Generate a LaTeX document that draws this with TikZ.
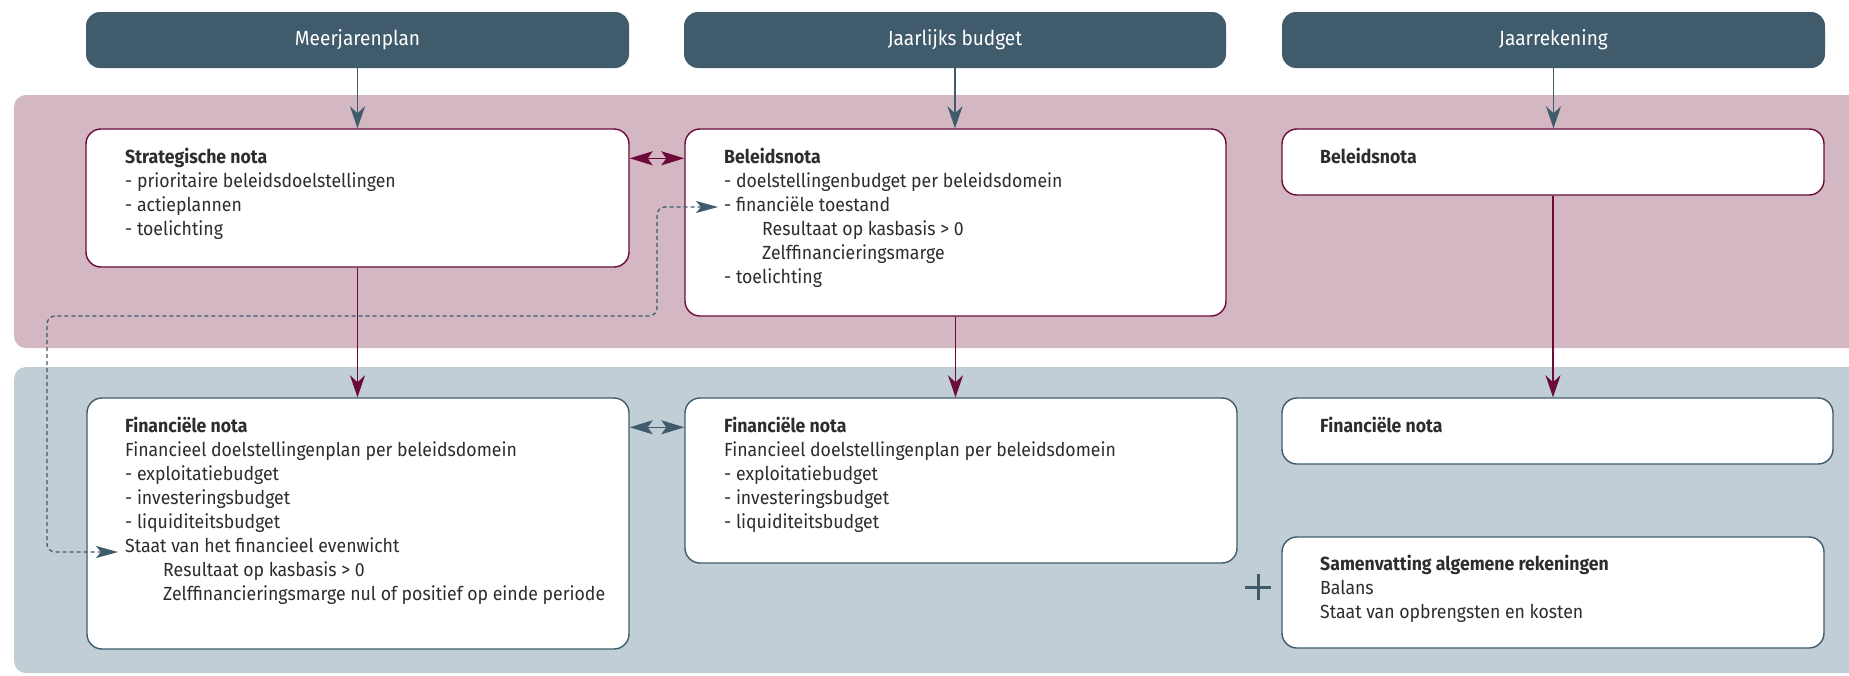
\documentclass[tikz,border=0pt]{standalone}
\usepackage{fontspec}
\setmainfont{Fira Sans}[FakeStretch=0.93]
\usetikzlibrary{arrows.meta,calc}
\definecolor{hdr}{RGB}{63,91,108}
\definecolor{pinkband}{RGB}{211,184,195}
\definecolor{blueband}{RGB}{193,206,214}
\definecolor{maroon}{RGB}{108,10,58}
\definecolor{txtgray}{RGB}{45,45,45}
\newcommand\myBody{\fontsize{19}{24}\selectfont}
\newcommand\myHdr{\fontsize{20.5}{24}\selectfont}
\newcommand\fl{\rule{0pt}{15pt}}
\newcommand\ind{\hspace*{38pt}}
\tikzset{
  hdrbox/.style={fill=hdr, rounded corners=14pt, text=white, font=\myHdr, inner sep=0pt},
  mbox/.style={draw=maroon, fill=white, line width=1.4pt, rounded corners=15pt, inner sep=0pt},
  bbox/.style={draw=hdr, fill=white, line width=1.4pt, rounded corners=15pt, inner sep=0pt},
  txt/.style={anchor=north west, inner sep=0pt, align=left, font=\myBody, text=txtgray},
  tipA/.tip={Stealth[length=22pt,width=15pt,inset=7pt]},
  tipD/.tip={Stealth[length=23pt,width=14pt,inset=5pt]},
  tipS/.tip={Stealth[length=22pt,width=12pt,inset=5pt]},
  arrH/.style={draw=hdr, line width=1.6pt, -tipA},
  arrM/.style={draw=maroon, line width=1.6pt, -tipA},
  dblM/.style={draw=maroon, line width=1.6pt, tipD-tipD},
  dblB/.style={draw=hdr, line width=1.6pt, tipD-tipD},
  dashA/.style={draw=hdr, line width=1.3pt, dash pattern=on 4pt off 3pt, rounded corners=8pt, tipS-tipS},
}
\begin{document}
\begin{tikzpicture}[x=1pt,y=-1pt]
\useasboundingbox (0,0) rectangle (1849,675);
% bands
\begin{scope}
\clip (0,0) rectangle (1849,675);
\fill[pinkband, rounded corners=12pt] (14,95) rectangle (1880,348);
\fill[blueband, rounded corners=12pt] (14,367) rectangle (1880,673);
\end{scope}
% headers
\node[hdrbox, minimum width=543pt, minimum height=56pt] (h1) at (357.5,40) {Meerjarenplan};
\node[hdrbox, minimum width=542pt, minimum height=56pt] (h2) at (955,40) {Jaarlijks budget};
\node[hdrbox, minimum width=543pt, minimum height=56pt] (h3) at (1553.5,40) {Jaarrekening};
% top boxes
\node[mbox, minimum width=543pt, minimum height=138pt] (sn) at (357.5,198) {};
\node[mbox, minimum width=541pt, minimum height=187pt] (bn) at (955.5,222.5) {};
\node[mbox, minimum width=542pt, minimum height=66pt] (bn3) at (1553,162) {};
% bottom boxes
\node[bbox, minimum width=542pt, minimum height=251pt] (fn1) at (358,523.5) {};
\node[bbox, minimum width=552pt, minimum height=165pt] (fn2) at (961,480.5) {};
\node[bbox, minimum width=551pt, minimum height=66pt] (fn3) at (1557.5,431) {};
\node[bbox, minimum width=542pt, minimum height=111pt] (sv) at (1553,592.5) {};
% texts
\node[txt] (snT) at (125,148) {\fl\textbf{Strategische nota}\\- prioritaire beleidsdoelstellingen\\- actieplannen\\- toelichting};
\node[txt] (bnT) at (724,148) {\fl\textbf{Beleidsnota}\\- doelstellingenbudget per beleidsdomein\\- financiële toestand\\\ind Resultaat op kasbasis > 0\\\ind Zelffinancieringsmarge\\- toelichting};
\node[txt] (bn3T) at (1320,148) {\fl\textbf{Beleidsnota}};
\node[txt] (fn1T) at (125,417) {\fl\textbf{Financiële nota}\\Financieel doelstellingenplan per beleidsdomein\\- exploitatiebudget\\- investeringsbudget\\- liquiditeitsbudget\\Staat van het financieel evenwicht\\\ind Resultaat op kasbasis > 0\\\ind Zelffinancieringsmarge nul of positief op einde periode};
\node[txt] (fn2T) at (724,417) {\fl\textbf{Financiële nota}\\Financieel doelstellingenplan per beleidsdomein\\- exploitatiebudget\\- investeringsbudget\\- liquiditeitsbudget};
\node[txt] (fn3T) at (1320,417) {\fl\textbf{Financiële nota}};
\node[txt] (svT) at (1320,555) {\fl\textbf{Samenvatting algemene rekeningen}\\Balans\\Staat van opbrengsten en kosten};
% plus sign
\draw[hdr, line width=3pt] (1245,587) -- (1271,587) (1258,574) -- (1258,600);
% header arrows
\draw[arrH] (h1.south) -- (h1.south |- sn.north);
\draw[arrH] (h2.south) -- (h2.south |- bn.north);
\draw[arrH] (h3.south) -- (h3.south |- bn3.north);
% band arrows
\draw[arrM] (sn.south) -- (sn.south |- fn1.north);
\draw[arrM] (bn.south) -- (bn.south |- fn2.north);
\draw[arrM] (bn3.south) -- (bn3.south |- fn3.north);
% double arrows
\coordinate (m1) at ($(sn.north east)+(0,30)$);
\coordinate (m2) at ($(fn1.north east)+(0,30)$);
\draw[dblM] (m1) -- (m1 -| bn.west);
\draw[dblB] (m2) -- (m2 -| fn2.west);
% dashed connector
\coordinate (dA) at (718,207);
\coordinate (dB) at (118,552);
\draw[dashA] (dA) -- (657,207) -- (657,316) -- (47,316) -- (47,552) -- (dB);
\end{tikzpicture}
\end{document}
